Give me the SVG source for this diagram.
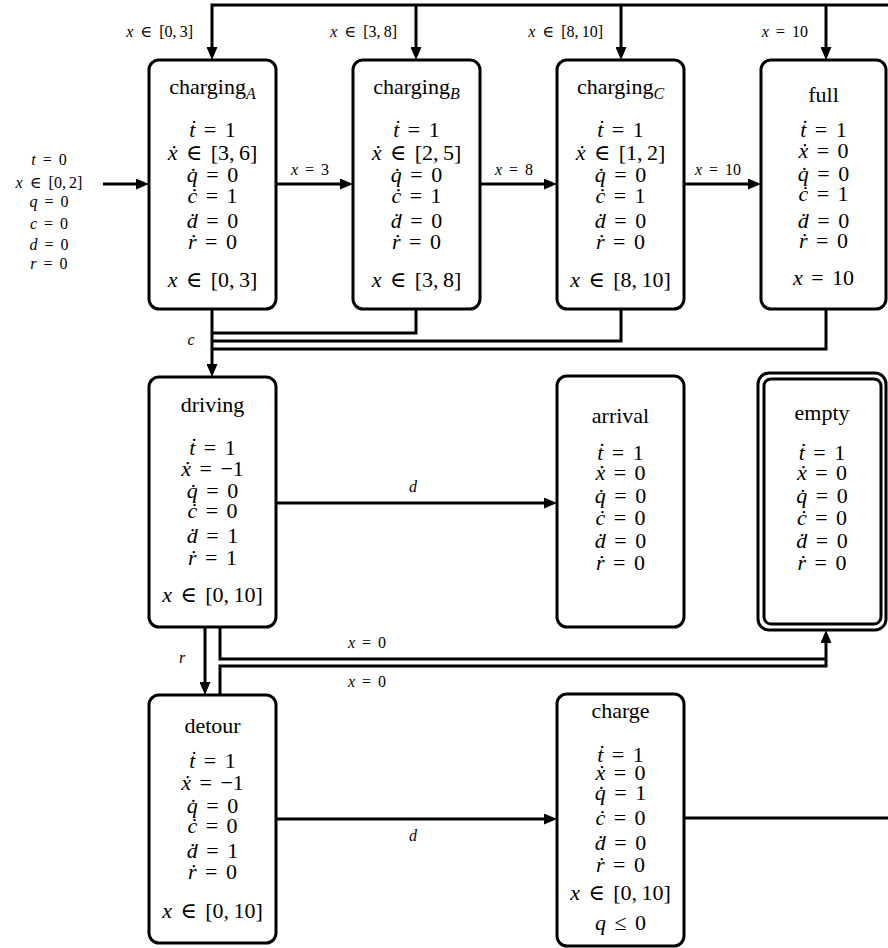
<svg xmlns="http://www.w3.org/2000/svg" width="888" height="948" viewBox="0 0 888 948">
<style>
.box{fill:#fff;stroke:#000;stroke-width:3}
text{font-family:"Liberation Serif","DejaVu Serif",serif;fill:#000}
.t{font-size:22px;text-anchor:middle;word-spacing:3px}
.l{font-size:16px;word-spacing:3px}
.m{text-anchor:middle}
.e{text-anchor:end}
.i{font-style:italic}
.s{font-size:16px;font-style:italic}
.w{fill:none;stroke:#000;stroke-width:3}
</style>
<defs>
<marker id="ah" markerUnits="userSpaceOnUse" markerWidth="14" markerHeight="11" refX="9" refY="5.5" orient="auto">
<path d="M0,0 L13,5.5 L0,11 z" fill="#000"/>
</marker>
</defs>
<rect width="888" height="948" fill="#fff"/>

<g id="connectors">
<path class="w" d="M103,184 H145" marker-end="url(#ah)"/>
<path class="w" d="M888,5 H212 V56" marker-end="url(#ah)"/>
<path class="w" d="M416,5 V56" marker-end="url(#ah)"/>
<path class="w" d="M621,5 V56" marker-end="url(#ah)"/>
<path class="w" d="M826,5 V56" marker-end="url(#ah)"/>
<path class="w" d="M276,184 H349" marker-end="url(#ah)"/>
<path class="w" d="M480,184 H553" marker-end="url(#ah)"/>
<path class="w" d="M684,184 H757" marker-end="url(#ah)"/>
<path class="w" d="M212,309 V373" marker-end="url(#ah)"/>
<path class="w" d="M416,309 V333 H212"/>
<path class="w" d="M621,309 V341 H212"/>
<path class="w" d="M826,309 V349 H212"/>
<path class="w" d="M276,503 H553" marker-end="url(#ah)"/>
<path class="w" d="M205,627 V691" marker-end="url(#ah)"/>
<path class="w" d="M220,627 V659 H826"/>
<path class="w" d="M220,695 V666 H826 V634" marker-end="url(#ah)"/>
<path class="w" d="M276,819 H553" marker-end="url(#ah)"/>
<path class="w" d="M684,818 H888"/>
<text class="l e" x="193" y="37"><tspan class="i">x</tspan> ∈ [0,&#8201;3]</text>
<text class="l e" x="397" y="37"><tspan class="i">x</tspan> ∈ [3,&#8201;8]</text>
<text class="l e" x="603" y="37"><tspan class="i">x</tspan> ∈ [8,&#8201;10]</text>
<text class="l e" x="808" y="37"><tspan class="i">x</tspan> = 10</text>
<text class="l m" x="310" y="175"><tspan class="i">x</tspan> = 3</text>
<text class="l m" x="514" y="175"><tspan class="i">x</tspan> = 8</text>
<text class="l m" x="718" y="175"><tspan class="i">x</tspan> = 10</text>
<text class="s m" x="191" y="345">c</text>
<text class="s m" x="413" y="492">d</text>
<text class="s m" x="182" y="663">r</text>
<text class="l m" x="367" y="648"><tspan class="i">x</tspan> = 0</text>
<text class="l m" x="367" y="687"><tspan class="i">x</tspan> = 0</text>
<text class="s m" x="413" y="841">d</text>
</g>

<g id="init">
<text class="l m" x="49" y="165"><tspan class="i">t</tspan> = 0</text>
<text class="l m" x="49" y="188"><tspan class="i">x</tspan> ∈ [0,&#8201;2]</text>
<text class="l m" x="49" y="207"><tspan class="i">q</tspan> = 0</text>
<text class="l m" x="49" y="229"><tspan class="i">c</tspan> = 0</text>
<text class="l m" x="49" y="250"><tspan class="i">d</tspan> = 0</text>
<text class="l m" x="49" y="269"><tspan class="i">r</tspan> = 0</text>
</g>

<g id="chargingA">
<rect class="box" x="149" y="60" width="127" height="249" rx="10"/>
<text class="t" x="212.5" y="94">charging<tspan class="i" font-size="16" dy="5">A</tspan></text>
<text class="t" x="212.5" y="137"><tspan class="i">ṫ</tspan> = 1</text>
<text class="t" x="212.5" y="160"><tspan class="i">ẋ</tspan> ∈ [3,&#8201;6]</text>
<text class="t" x="212.5" y="182"><tspan class="i">q̇</tspan> = 0</text>
<text class="t" x="212.5" y="203"><tspan class="i">ċ</tspan> = 1</text>
<text class="t" x="212.5" y="228"><tspan class="i">ḋ</tspan> = 0</text>
<text class="t" x="212.5" y="249"><tspan class="i">ṙ</tspan> = 0</text>
<text class="t" x="212.5" y="287"><tspan class="i">x</tspan> ∈ [0,&#8201;3]</text>
</g>

<g id="chargingB">
<rect class="box" x="353" y="60" width="127" height="249" rx="10"/>
<text class="t" x="416.5" y="94">charging<tspan class="i" font-size="16" dy="5">B</tspan></text>
<text class="t" x="416.5" y="137"><tspan class="i">ṫ</tspan> = 1</text>
<text class="t" x="416.5" y="160"><tspan class="i">ẋ</tspan> ∈ [2,&#8201;5]</text>
<text class="t" x="416.5" y="182"><tspan class="i">q̇</tspan> = 0</text>
<text class="t" x="416.5" y="203"><tspan class="i">ċ</tspan> = 1</text>
<text class="t" x="416.5" y="228"><tspan class="i">ḋ</tspan> = 0</text>
<text class="t" x="416.5" y="249"><tspan class="i">ṙ</tspan> = 0</text>
<text class="t" x="416.5" y="287"><tspan class="i">x</tspan> ∈ [3,&#8201;8]</text>
</g>

<g id="chargingC">
<rect class="box" x="557" y="60" width="127" height="249" rx="10"/>
<text class="t" x="620.5" y="94">charging<tspan class="i" font-size="16" dy="5">C</tspan></text>
<text class="t" x="620.5" y="137"><tspan class="i">ṫ</tspan> = 1</text>
<text class="t" x="620.5" y="160"><tspan class="i">ẋ</tspan> ∈ [1,&#8201;2]</text>
<text class="t" x="620.5" y="182"><tspan class="i">q̇</tspan> = 0</text>
<text class="t" x="620.5" y="203"><tspan class="i">ċ</tspan> = 1</text>
<text class="t" x="620.5" y="228"><tspan class="i">ḋ</tspan> = 0</text>
<text class="t" x="620.5" y="249"><tspan class="i">ṙ</tspan> = 0</text>
<text class="t" x="620.5" y="287"><tspan class="i">x</tspan> ∈ [8,&#8201;10]</text>
</g>

<g id="full">
<rect class="box" x="761" y="60" width="125" height="249" rx="10"/>
<text class="t" x="823.5" y="102">full</text>
<text class="t" x="823.5" y="137"><tspan class="i">ṫ</tspan> = 1</text>
<text class="t" x="823.5" y="158"><tspan class="i">ẋ</tspan> = 0</text>
<text class="t" x="823.5" y="181"><tspan class="i">q̇</tspan> = 0</text>
<text class="t" x="823.5" y="201"><tspan class="i">ċ</tspan> = 1</text>
<text class="t" x="823.5" y="228"><tspan class="i">ḋ</tspan> = 0</text>
<text class="t" x="823.5" y="248"><tspan class="i">ṙ</tspan> = 0</text>
<text class="t" x="823.5" y="285"><tspan class="i">x</tspan> = 10</text>
</g>

<g id="driving">
<rect class="box" x="149" y="377" width="127" height="250" rx="10"/>
<text class="t" x="212.5" y="412">driving</text>
<text class="t" x="212.5" y="455"><tspan class="i">ṫ</tspan> = 1</text>
<text class="t" x="212.5" y="476"><tspan class="i">ẋ</tspan> = −1</text>
<text class="t" x="212.5" y="498"><tspan class="i">q̇</tspan> = 0</text>
<text class="t" x="212.5" y="518"><tspan class="i">ċ</tspan> = 0</text>
<text class="t" x="212.5" y="543"><tspan class="i">ḋ</tspan> = 1</text>
<text class="t" x="212.5" y="565"><tspan class="i">ṙ</tspan> = 1</text>
<text class="t" x="212.5" y="602"><tspan class="i">x</tspan> ∈ [0,&#8201;10]</text>
</g>

<g id="arrival">
<rect class="box" x="557" y="376" width="127" height="251" rx="10"/>
<text class="t" x="620.5" y="423">arrival</text>
<text class="t" x="620.5" y="460"><tspan class="i">ṫ</tspan> = 1</text>
<text class="t" x="620.5" y="480"><tspan class="i">ẋ</tspan> = 0</text>
<text class="t" x="620.5" y="503"><tspan class="i">q̇</tspan> = 0</text>
<text class="t" x="620.5" y="525"><tspan class="i">ċ</tspan> = 0</text>
<text class="t" x="620.5" y="548"><tspan class="i">ḋ</tspan> = 0</text>
<text class="t" x="620.5" y="570"><tspan class="i">ṙ</tspan> = 0</text>
</g>

<g id="empty">
<rect class="box" x="758" y="373" width="128" height="257" rx="11"/>
<rect class="box" x="764" y="379" width="117" height="245" rx="7"/>
<text class="t" x="822" y="420">empty</text>
<text class="t" x="822" y="460"><tspan class="i">ṫ</tspan> = 1</text>
<text class="t" x="822" y="480"><tspan class="i">ẋ</tspan> = 0</text>
<text class="t" x="822" y="503"><tspan class="i">q̇</tspan> = 0</text>
<text class="t" x="822" y="525"><tspan class="i">ċ</tspan> = 0</text>
<text class="t" x="822" y="548"><tspan class="i">ḋ</tspan> = 0</text>
<text class="t" x="822" y="570"><tspan class="i">ṙ</tspan> = 0</text>
</g>

<g id="detour">
<rect class="box" x="149" y="695" width="127" height="248" rx="10"/>
<text class="t" x="212.5" y="733">detour</text>
<text class="t" x="212.5" y="768"><tspan class="i">ṫ</tspan> = 1</text>
<text class="t" x="212.5" y="790"><tspan class="i">ẋ</tspan> = −1</text>
<text class="t" x="212.5" y="813"><tspan class="i">q̇</tspan> = 0</text>
<text class="t" x="212.5" y="833"><tspan class="i">ċ</tspan> = 0</text>
<text class="t" x="212.5" y="858"><tspan class="i">ḋ</tspan> = 1</text>
<text class="t" x="212.5" y="879"><tspan class="i">ṙ</tspan> = 0</text>
<text class="t" x="212.5" y="918"><tspan class="i">x</tspan> ∈ [0,&#8201;10]</text>
</g>

<g id="charge">
<rect class="box" x="557" y="694" width="127" height="252" rx="10"/>
<text class="t" x="620.5" y="718">charge</text>
<text class="t" x="620.5" y="762"><tspan class="i">ṫ</tspan> = 1</text>
<text class="t" x="620.5" y="780"><tspan class="i">ẋ</tspan> = 0</text>
<text class="t" x="620.5" y="800"><tspan class="i">q̇</tspan> = 1</text>
<text class="t" x="620.5" y="825"><tspan class="i">ċ</tspan> = 0</text>
<text class="t" x="620.5" y="850"><tspan class="i">ḋ</tspan> = 0</text>
<text class="t" x="620.5" y="872"><tspan class="i">ṙ</tspan> = 0</text>
<text class="t" x="620.5" y="900"><tspan class="i">x</tspan> ∈ [0,&#8201;10]</text>
<text class="t" x="620.5" y="930"><tspan class="i">q</tspan> ≤ 0</text>
</g>
</svg>
